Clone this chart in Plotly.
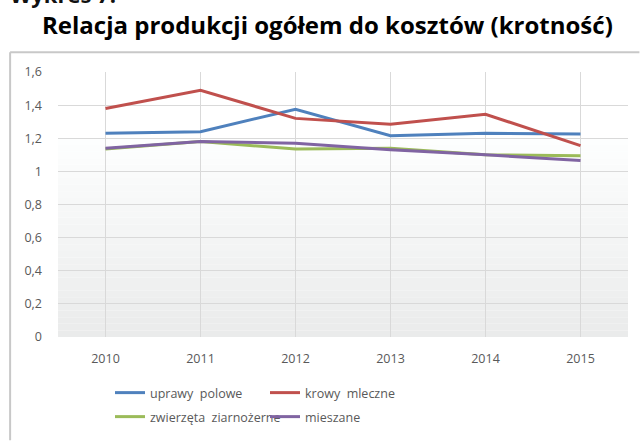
import plotly.graph_objects as go

years = ["2010", "2011", "2012", "2013", "2014", "2015"]
uprawy_polowe = [1.23, 1.24, 1.375, 1.215, 1.23, 1.225]
krowy_mleczne = [1.38, 1.49, 1.32, 1.285, 1.345, 1.155]
zwierzeta_ziarnozerne = [1.135, 1.18, 1.135, 1.14, 1.10, 1.095]
mieszane = [1.14, 1.18, 1.17, 1.13, 1.10, 1.065]

series = [
    ("uprawy  polowe", uprawy_polowe, "#4F81BD", "legend"),
    ("krowy  mleczne", krowy_mleczne, "#C0504D", "legend"),
    ("zwierzęta  ziarnożerne", zwierzeta_ziarnozerne, "#9BBB59", "legend2"),
    ("mieszane", mieszane, "#8064A2", "legend2"),
]

W, H = 643, 442
ML, MR, MT, MB = 58, 15, 72, 105
PW, PH = W - ML - MR, H - MT - MB

def px_x(p):
    return (p - ML) / PW

def px_y(p):
    return (H - MB - p) / PH

fig = go.Figure()
for name, vals, color, lg in series:
    fig.add_trace(go.Scatter(x=years, y=vals, name=name, mode="lines",
                             line=dict(color=color, width=3), legend=lg))

shapes = []
# outer chart border (left and top edges)
border = dict(color="#C8C8C8", width=2)
shapes.append(dict(type="line", xref="paper", yref="paper",
                   x0=-0.084, x1=-0.084, y0=1.075, y1=-0.39, line=border))
shapes.append(dict(type="line", xref="paper", yref="paper",
                   x0=-0.084, x1=1.02, y0=1.075, y1=1.075, line=border))
# gradient background
n = 30
for i in range(n):
    y0 = 1.2 * i / n
    y1 = 1.2 * (i + 1) / n
    t = i / (n - 1)
    c0, c1 = 234, 253
    v = int(round(c0 + (c1 - c0) * t))
    shapes.append(dict(type="rect", xref="paper", yref="y", x0=0, x1=1, y0=y0, y1=y1,
                       fillcolor=f"rgb({v},{v+1},{v+1})", line=dict(width=0), layer="below"))

font_ticks = dict(family="Open Sans", size=12.5, color="#595959")

fig.update_layout(
    width=W, height=H,
    margin=dict(l=ML, r=MR, t=MT, b=MB, autoexpand=False),
    paper_bgcolor="white", plot_bgcolor="white",
    separators=",.",
    shapes=shapes,
    showlegend=True,
    legend=dict(orientation="h", x=px_x(110), y=px_y(393), xanchor="left", yanchor="middle",
                entrywidth=110, entrywidthmode="pixels", font=font_ticks,
                bgcolor="rgba(0,0,0,0)", itemwidth=30),
    legend2=dict(orientation="h", x=px_x(110), y=px_y(417), xanchor="left", yanchor="middle",
                 entrywidth=110, entrywidthmode="pixels", font=font_ticks,
                 bgcolor="rgba(0,0,0,0)", itemwidth=30),
    annotations=[
        dict(text="<b>Relacja produkcji ogółem do kosztów (krotność)</b>", xref="paper", yref="paper",
             x=px_x(327), y=px_y(24), xanchor="center", yanchor="middle", showarrow=False,
             font=dict(family="Open Sans", size=24, color="#000000")),
        dict(text="<b>Wykres 7.</b>", xref="paper", yref="paper",
             x=px_x(8), y=px_y(-6), xanchor="left", yanchor="middle", showarrow=False,
             font=dict(family="Open Sans", size=22, color="#111111")),
    ],
)
fig.update_xaxes(type="category", range=[-0.5, 5.5], showgrid=True, gridcolor="#D9D9D9", gridwidth=1,
                 showline=False, zeroline=False, tickfont=font_ticks, ticks="", ticklabelstandoff=12)
fig.update_yaxes(range=[0, 1.6], dtick=0.2, showgrid=True, gridcolor="#D9D9D9", gridwidth=1,
                 zeroline=False, showline=False, tickfont=font_ticks, ticks="", ticklabelstandoff=15)

fig.write_html("out.html", config={"displayModeBar": False},
               post_script="document.body.style.margin='0';")
